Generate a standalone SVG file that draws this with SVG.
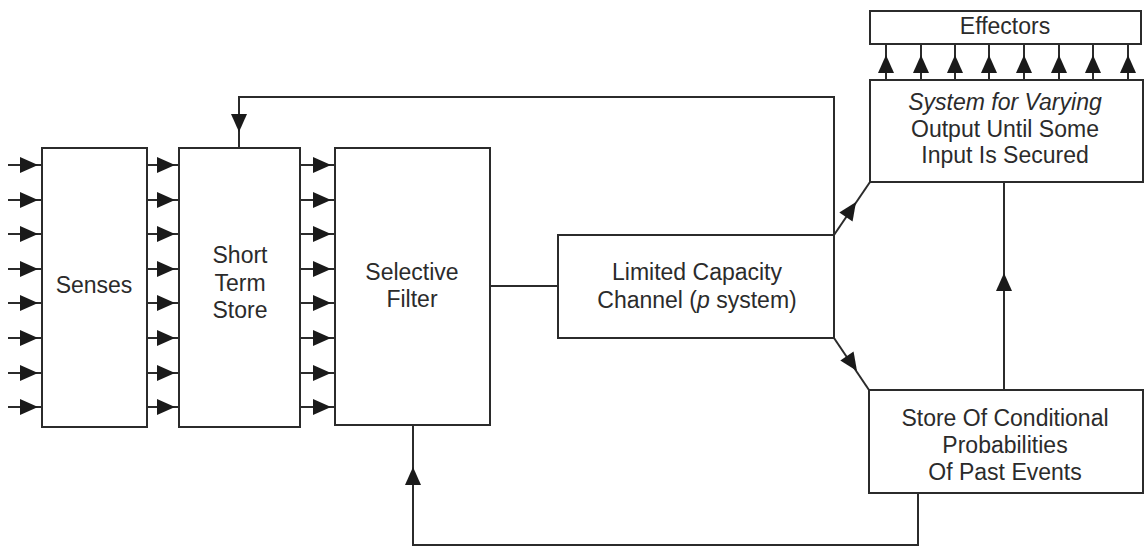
<svg xmlns="http://www.w3.org/2000/svg" width="1146" height="549" viewBox="0 0 1146 549">
<style>
.box{fill:#fff;stroke:#2b2b2b;stroke-width:2}
.ln{fill:none;stroke:#2b2b2b;stroke-width:2}
.t{font-family:"Liberation Sans",Arial,sans-serif;font-size:23px;fill:#2b2b2b;text-anchor:middle}
.ah{fill:#1a1a1a}
</style>
<defs>
<path id="ah" class="ah" d="M0,0 L-18,-8 L-18,8 Z"/>
</defs>
<rect width="1146" height="549" fill="#fff"/>
<g id="connectors">
<g id="inputs">
<path class="ln" d="M8,165H42M8,200H42M8,234H42M8,269H42M8,303H42M8,338H42M8,373H42M8,407H42"/>
<use href="#ah" x="38" y="165"/><use href="#ah" x="38" y="200"/><use href="#ah" x="38" y="234"/><use href="#ah" x="38" y="269"/><use href="#ah" x="38" y="303"/><use href="#ah" x="38" y="338"/><use href="#ah" x="38" y="373"/><use href="#ah" x="38" y="407"/>
</g>
<g id="senses-sts">
<path class="ln" d="M147,165H179M147,200H179M147,234H179M147,269H179M147,303H179M147,338H179M147,373H179M147,407H179"/>
<use href="#ah" x="175" y="165"/><use href="#ah" x="175" y="200"/><use href="#ah" x="175" y="234"/><use href="#ah" x="175" y="269"/><use href="#ah" x="175" y="303"/><use href="#ah" x="175" y="338"/><use href="#ah" x="175" y="373"/><use href="#ah" x="175" y="407"/>
</g>
<g id="sts-filter">
<path class="ln" d="M300,165H335M300,200H335M300,234H335M300,269H335M300,303H335M300,338H335M300,373H335M300,407H335"/>
<use href="#ah" x="331" y="165"/><use href="#ah" x="331" y="200"/><use href="#ah" x="331" y="234"/><use href="#ah" x="331" y="269"/><use href="#ah" x="331" y="303"/><use href="#ah" x="331" y="338"/><use href="#ah" x="331" y="373"/><use href="#ah" x="331" y="407"/>
</g>
<g id="effector-arrows">
<path class="ln" d="M886,80V44M921,80V44M955,80V44M989,80V44M1024,80V44M1059,80V44M1093,80V44M1128,80V44"/>
<use href="#ah" transform="translate(886,55) rotate(-90)"/><use href="#ah" transform="translate(921,55) rotate(-90)"/><use href="#ah" transform="translate(955,55) rotate(-90)"/><use href="#ah" transform="translate(989,55) rotate(-90)"/><use href="#ah" transform="translate(1024,55) rotate(-90)"/><use href="#ah" transform="translate(1059,55) rotate(-90)"/><use href="#ah" transform="translate(1093,55) rotate(-90)"/><use href="#ah" transform="translate(1128,55) rotate(-90)"/>
</g>
<path class="ln" d="M834,235V97H239V148"/>
<use href="#ah" transform="translate(239,132) rotate(90)"/>
<path class="ln" d="M490,286H558"/>
<path class="ln" d="M834,235L870,182"/>
<use href="#ah" transform="translate(856,202) rotate(-56)"/>
<path class="ln" d="M834,338L869,390"/>
<use href="#ah" transform="translate(857,371) rotate(56)"/>
<path class="ln" d="M1004,390V182"/>
<use href="#ah" transform="translate(1004,273) rotate(-90)"/>
<path class="ln" d="M918,493V545H413V425"/>
<use href="#ah" transform="translate(413,467) rotate(-90)"/>
</g>
<g id="senses">
<rect class="box" x="42" y="148" width="105" height="279"/>
<text class="t" x="94" y="293">Senses</text>
</g>
<g id="short-term-store">
<rect class="box" x="179" y="148" width="121" height="279"/>
<text class="t" x="240" y="263">Short</text>
<text class="t" x="240" y="291">Term</text>
<text class="t" x="240" y="318">Store</text>
</g>
<g id="selective-filter">
<rect class="box" x="335" y="148" width="155" height="277"/>
<text class="t" x="412" y="280">Selective</text>
<text class="t" x="412" y="307">Filter</text>
</g>
<g id="channel">
<rect class="box" x="558" y="235" width="276" height="103"/>
<text class="t" x="697" y="280">Limited Capacity</text>
<text class="t" x="697" y="308">Channel (<tspan font-style="italic">p</tspan> system)</text>
</g>
<g id="effectors">
<rect class="box" x="870" y="11" width="271" height="33"/>
<text class="t" x="1005" y="34">Effectors</text>
</g>
<g id="system-varying">
<rect class="box" x="870" y="80" width="273" height="102"/>
<text class="t" x="1005" y="110" font-style="italic">System for Varying</text>
<text class="t" x="1005" y="137">Output Until Some</text>
<text class="t" x="1005" y="163">Input Is Secured</text>
</g>
<g id="store-probabilities">
<rect class="box" x="869" y="390" width="274" height="103"/>
<text class="t" x="1005" y="426">Store Of Conditional</text>
<text class="t" x="1005" y="453">Probabilities</text>
<text class="t" x="1005" y="480">Of Past Events</text>
</g>
</svg>
